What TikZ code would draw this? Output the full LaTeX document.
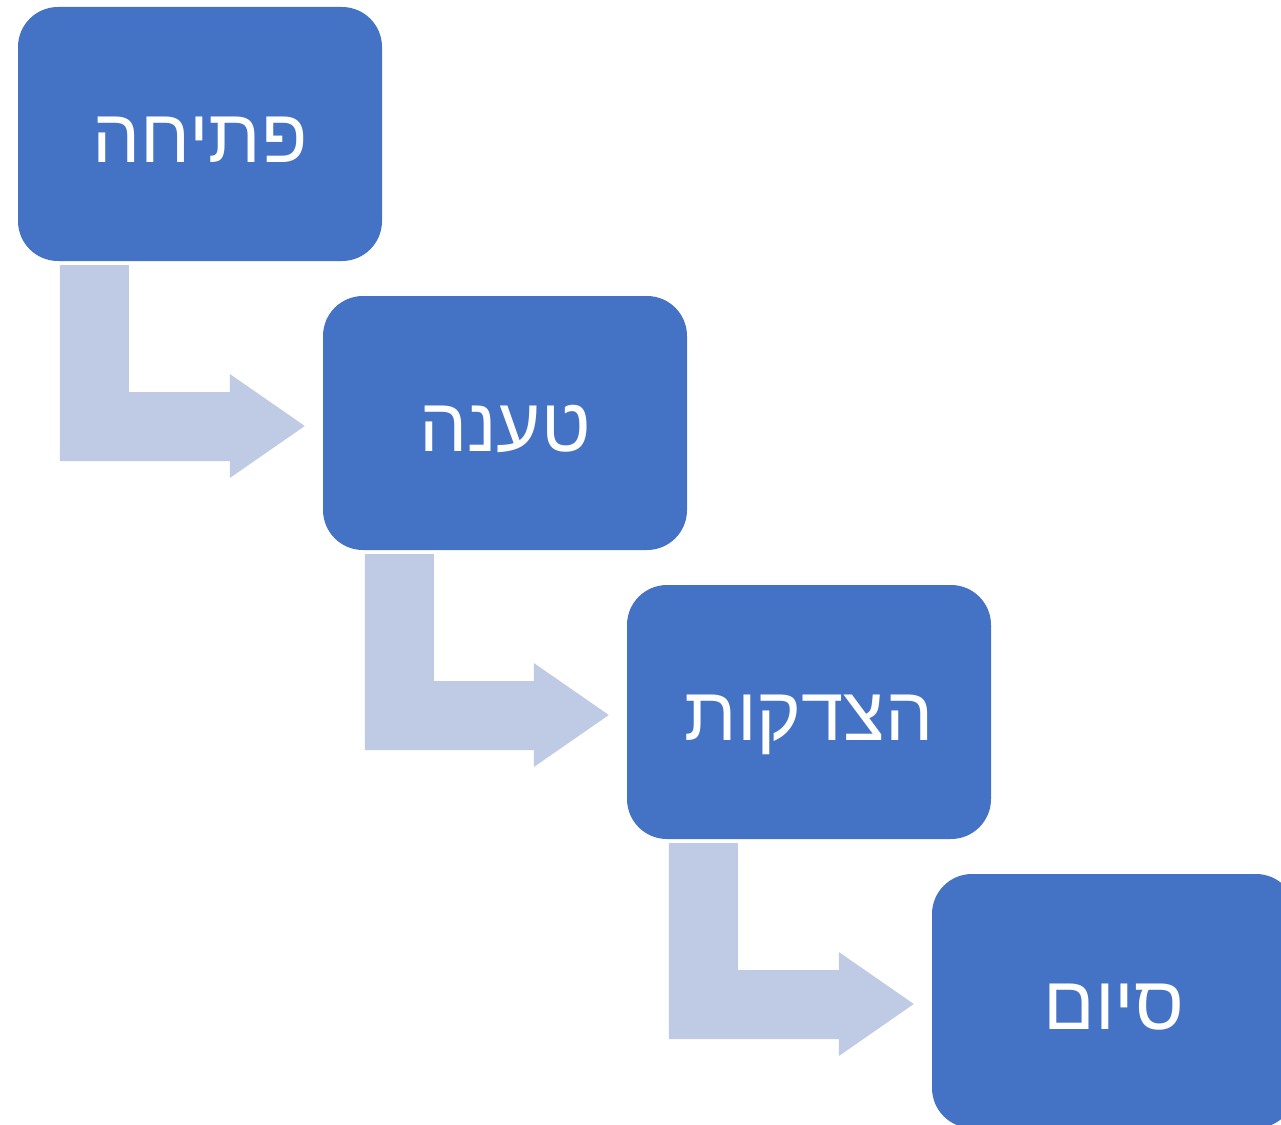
\documentclass[tikz,border=0pt]{standalone}
\usepackage{fontspec}
\newfontfamily\hebfont[Script=Hebrew]{Liberation Sans}
\TeXXeTstate=1
\usetikzlibrary{calc}

\definecolor{stagefill}{HTML}{4472C4}
\definecolor{flowfill}{HTML}{BFCAE4}

\begin{document}
\begin{tikzpicture}[x=1pt,y=-1pt,
    stage/.style={fill=stagefill, rounded corners=40pt, minimum width=364pt,
      minimum height=254pt, inner sep=0pt, text=white, text height=56pt,
      text depth=0pt, font=\hebfont\fontsize{76}{84}\selectfont},
    flow/.style={fill=flowfill}]
  % frame
  \clip (0,0) rectangle (1281,1124);
  % draw stages
  \node[stage] (open)  at (200,134)  {\beginR פתיחה\endR};
  \node[stage] (claim) at (505,423)  {\beginR טענה\endR};
  \node[stage] (just)  at (809,712)  {\beginR הצדקות\endR};
  \node[stage] (close) at (1114,1001) {\beginR סיום\endR};
  % draw bent arrows
  \foreach \a/\b in {open/claim, claim/just, just/close}
    \fill[flow] let \p1=(\a.south west), \p2=(\b.west) in
      (\x1+42pt,\y1-4pt) -- (\x1+111pt,\y1-4pt) -- (\x1+111pt,\y2+31pt)
      -- (\x2-93pt,\y2+31pt) -- (\x2-93pt,\y2+49pt) -- (\x2-18pt,\y2-3pt)
      -- (\x2-93pt,\y2-55pt) -- (\x2-93pt,\y2-38pt) -- (\x1+42pt,\y2-38pt)
      -- cycle;
\end{tikzpicture}
\end{document}
